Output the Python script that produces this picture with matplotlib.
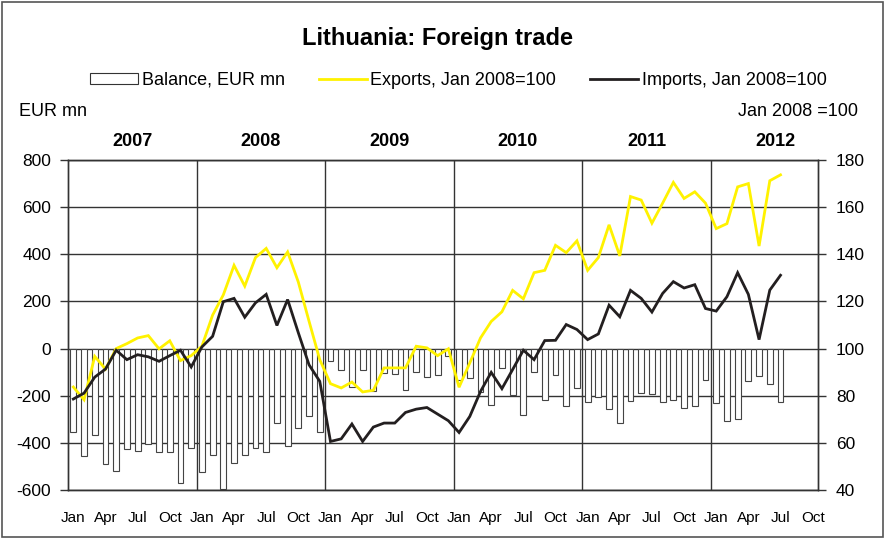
import numpy as np
import matplotlib
matplotlib.use("Agg")
import matplotlib.pyplot as plt
from matplotlib.patches import Patch, Rectangle
from matplotlib.lines import Line2D

plt.rcParams['font.family'] = ['Liberation Sans', 'DejaVu Sans']
plt.rcParams['axes.unicode_minus'] = False

# monthly data, Jan 2007 - Jul 2012
balance = [
    -355, -455, -366, -489, -518, -425, -435, -404, -440, -440, -569, -423,   # 2007
    -525, -451, -597, -485, -451, -420, -437, -316, -414, -336, -285, -355,   # 2008
    -51, -89, -163, -89, -181, -104, -108, -177, -99, -121, -111, -33,       # 2009
    -132, -125, -184, -238, -84, -196, -282, -101, -220, -111, -242, -166,   # 2010
    -227, -207, -255, -316, -223, -189, -193, -225, -218, -250, -244, -132,  # 2011
    -231, -306, -299, -139, -116, -150, -227,                               # 2012
]
exports = [
    83.7, 78.3, 96.7, 91.3, 100.0, 102.1, 104.5, 105.5, 99.9, 103.3, 94.9, 97.0,
    101.0, 114.2, 122.8, 135.3, 126.5, 138.6, 142.5, 134.3, 141.0, 128.2, 111.6, 95.3,
    85.1, 83.3, 85.8, 81.6, 82.3, 91.8, 91.8, 91.8, 101.0, 100.3, 97.0, 99.9,
    83.6, 93.9, 104.5, 111.5, 115.6, 124.7, 121.1, 132.2, 133.2, 143.8, 140.7, 145.7,
    133.2, 138.6, 152.5, 139.3, 164.5, 163.0, 153.2, 161.7, 170.5, 163.7, 166.5, 161.7,
    150.9, 153.0, 168.6, 170.0, 143.5, 171.2, 173.7,
]
imports = [
    78.6, 81.1, 87.9, 91.3, 99.3, 95.3, 97.4, 96.5, 94.6, 97.0, 99.3, 92.2,
    100.7, 105.2, 119.9, 121.3, 113.3, 119.4, 123.0, 109.8, 120.8, 106.7, 93.1, 86.1,
    60.6, 61.7, 68.0, 60.6, 66.7, 68.4, 68.4, 72.9, 74.3, 75.0, 72.2, 69.4,
    64.4, 71.2, 81.8, 89.9, 83.0, 91.1, 99.3, 95.3, 103.4, 103.5, 110.2, 108.1,
    103.8, 106.2, 118.4, 113.5, 124.7, 121.3, 115.5, 123.4, 128.4, 125.7, 127.1, 117.0,
    115.9, 122.0, 132.2, 123.0, 103.8, 124.8, 131.1,
]
years = ['2007', '2008', '2009', '2010', '2011', '2012']
month_labels = ['Jan', 'Apr', 'Jul', 'Oct']

n_months = len(years) * 12 - 2  # axis runs to Oct 2012
x = np.arange(len(balance))

fig = plt.figure(figsize=(8.85, 5.38), dpi=100)
ax = fig.add_axes([0.0768, 0.0892, 0.8475, 0.6134])
ax2 = ax.twinx()

# horizontal grid
for v in range(-600, 801, 200):
    ax.axhline(v, color='#333333', lw=1.0, zorder=0)
# year separators
for k in range(1, len(years)):
    ax.axvline(12 * k - 0.5, color='#333333', lw=1.0, zorder=0)

ax.bar(x, balance, width=0.55, color='white', edgecolor='#444444', lw=0.8, zorder=2)

ax2.plot(x, exports, color='#FFF200', lw=2.0, solid_joinstyle='miter')
ax2.plot(x, imports, color='#231F20', lw=2.0, solid_joinstyle='miter')

ax.set_xlim(-0.5, n_months - 0.5)
ax.set_ylim(-600, 800)
ax2.set_ylim(40, 180)
ax.set_yticks(range(-600, 801, 200))
ax2.set_yticks(range(40, 181, 20))

ticks = np.arange(0, n_months, 3)
ax.set_xticks(ticks)
ax.set_xticklabels([month_labels[(t // 3) % 4] for t in ticks])

for a in (ax, ax2):
    for s in a.spines.values():
        s.set_color('#333333')
        s.set_linewidth(1.0)
ax.tick_params(axis='y', length=6, width=1, color='#333333', labelsize=12.5, pad=6)
ax2.tick_params(axis='y', length=6, width=1, color='#333333', labelsize=12.5, pad=7)
ax.tick_params(axis='x', length=0, labelsize=11, pad=15)

# year labels above plot
for i, yr in enumerate(years):
    ax.text(12 * i + 5.5, 880, yr, ha='center', va='center',
            fontsize=13, fontweight='bold')

fig.text(0.494, 0.929, 'Lithuania: Foreign trade', ha='center', va='center',
         fontsize=17, fontweight='bold')
fig.text(0.022, 0.792, 'EUR mn', ha='left', va='center', fontsize=13)
fig.text(0.9695, 0.792, 'Jan 2008 =100', ha='right', va='center', fontsize=13)

handles = [
    Patch(facecolor='white', edgecolor='#333333', lw=0.8),
    Line2D([], [], color='#FFF200', lw=2.0),
    Line2D([], [], color='#231F20', lw=2.0),
]
labels = ['Balance, EUR mn', 'Exports, Jan 2008=100', 'Imports, Jan 2008=100']
fig.legend(handles, labels, loc='center', bbox_to_anchor=(0.518, 0.851), ncol=3,
           frameon=False, fontsize=13, handlelength=2.65, handleheight=0.6,
           handletextpad=0.2, columnspacing=1.9, borderpad=0, borderaxespad=0)

fig.patches.append(Rectangle((0.002, 0.002), 0.996, 0.995, transform=fig.transFigure,
                             fill=False, edgecolor='#555555', lw=1.2))

fig.savefig('out.png', dpi=100)
